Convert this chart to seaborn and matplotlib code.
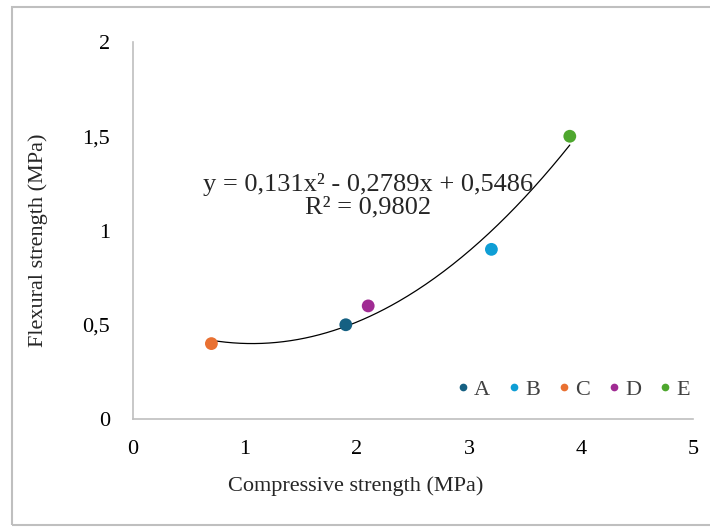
import numpy as np
import pandas as pd
import matplotlib
matplotlib.use("Agg")
import matplotlib.pyplot as plt
import seaborn as sns
from matplotlib.patches import Rectangle

# Data
mixes = ["A", "B", "C", "D", "E"]
compressive = [1.9, 3.2, 0.7, 2.1, 3.9]
flexural = [0.5, 0.9, 0.4, 0.6, 1.5]
colors = ["#156082", "#0F9ED5", "#E97132", "#A02B93", "#4EA72E"]
trend_coef = [0.131, -0.2789, 0.5486]
x_ticks = [0, 1, 2, 3, 4, 5]
x_labels = ["0", "1", "2", "3", "4", "5"]
y_ticks = [0, 0.5, 1, 1.5, 2]
y_labels = ["0", "0,5", "1", "1,5", "2"]
eq_lines = ["y = 0,131x² - 0,2789x + 0,5486", "R² = 0,9802"]

sns.set_style("white")
plt.rcParams["font.family"] = ["Liberation Serif", "DejaVu Serif"]

df = pd.DataFrame({"mix": mixes, "x": compressive, "y": flexural})

fig = plt.figure(figsize=(7.1, 5.29), dpi=100)
fig.patches.append(Rectangle((12/710, 1-525/529), 1.0, (525-7)/529,
                             transform=fig.transFigure, fill=False,
                             edgecolor="#bfbfbf", linewidth=1.5))
ax = fig.add_axes([133/710, 1-419/529, (693-133)/710, (419-42)/529])

# trendline
xs = np.linspace(min(compressive), max(compressive), 200)
ys = np.polyval(trend_coef, xs)
ax.plot(xs, ys, color="black", linewidth=0.9, zorder=1)

sns.scatterplot(data=df, x="x", y="y", hue="mix", palette=colors,
                hue_order=mixes, s=85, edgecolor="none", ax=ax, zorder=3)

ax.set_xlim(0, 5)
ax.set_ylim(0, 2)
ax.set_xticks(x_ticks)
ax.set_xticklabels(x_labels)
ax.set_yticks(y_ticks)
ax.set_yticklabels(y_labels)
ax.tick_params(axis="both", length=0, labelsize=16, colors="black")
ax.tick_params(axis="x", pad=15)
ax.tick_params(axis="y", pad=16.5)
for s in ["top", "right"]:
    ax.spines[s].set_visible(False)
for s in ["left", "bottom"]:
    ax.spines[s].set_color("#bfbfbf")
    ax.spines[s].set_linewidth(1.2)

ax.set_xlabel("Compressive strength (MPa)", fontsize=16)
ax.xaxis.set_label_coords((356-133)/560, (419-486)/377)
ax.xaxis.label.set_va("center")
ax.set_ylabel("Flexural strength (MPa)", fontsize=16)
ax.yaxis.set_label_coords((38-133)/560, (419-240)/377)
ax.yaxis.label.set_va("center")

ax.text(2.10, (419-185)/188.5, eq_lines[0], ha="center", va="center", fontsize=19)
ax.text(2.10, (419-207)/188.5, eq_lines[1], ha="center", va="center", fontsize=19)

leg = ax.legend(loc="center right", bbox_to_anchor=(0.995, 0.077), ncol=5,
                frameon=False, fontsize=16, markerscale=0.6,
                handlelength=0.6, handletextpad=0.2, columnspacing=0.78,
                borderpad=0, borderaxespad=0)
for t in leg.get_texts():
    t.set_color("#404040")

fig.savefig("out.png", dpi=100)
